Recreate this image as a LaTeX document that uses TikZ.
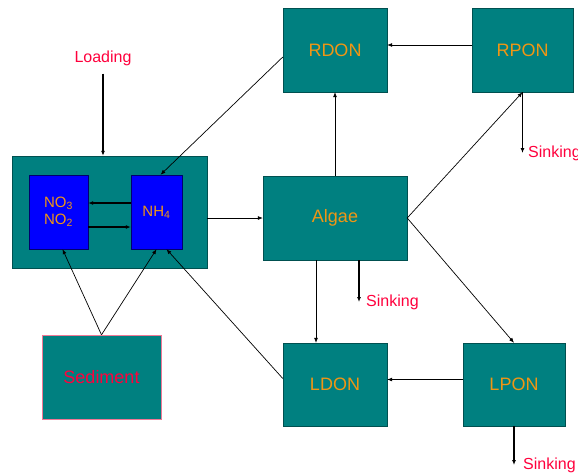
\documentclass[tikz,border=0pt]{standalone}
\usepackage{fontspec}
\setmainfont{Liberation Sans}
\usetikzlibrary{arrows.meta,calc,positioning}
\definecolor{PoolTeal}{RGB}{0,128,128}
\definecolor{EdgeTeal}{RGB}{0,80,80}
\definecolor{IonBlue}{RGB}{0,0,255}
\definecolor{EdgeBlue}{RGB}{0,0,110}
\definecolor{NameOrange}{RGB}{240,150,20}
\definecolor{NoteRed}{RGB}{255,0,60}
\definecolor{EdgePink}{RGB}{240,120,150}

\begin{document}
\begin{tikzpicture}[x=1pt,y=-1pt,>={Latex[length=5pt,width=4pt]},
  pool/.style={draw=EdgeTeal,fill=PoolTeal,text=NameOrange,font=\fontsize{18}{20}\selectfont,inner sep=0pt},
  ion/.style={draw=EdgeBlue,fill=IonBlue,text=NameOrange,font=\fontsize{15}{17}\selectfont,inner sep=0pt,align=center},
  note/.style={text=NoteRed,font=\fontsize{16}{18}\selectfont,inner sep=0pt},
  flow/.style={->,line width=0.7pt},
  drop/.style={->,line width=1.3pt}]
\useasboundingbox (0,0) rectangle (578,475);
% pools
\node[pool,minimum width=195pt,minimum height=112pt] (grp) at (109.5,212) {};
\node[ion,minimum width=59pt,minimum height=74pt] (no) at (58.5,212) {NO\textsubscript{3}\\NO\textsubscript{2}};
\node[ion,minimum width=51pt,minimum height=74pt] (nh) at (156.5,212) {NH\textsubscript{4}};
\node[pool,minimum width=144pt,minimum height=84pt] (algae) at (335,218) {Algae};
\node[pool,minimum width=104pt,minimum height=84pt] (rdon) at (335,50) {RDON};
\node[pool,minimum width=101pt,minimum height=84pt] (rpon) at (522.5,50) {RPON};
\node[pool,minimum width=104pt,minimum height=83pt] (ldon) at (335,384.5) {LDON};
\node[pool,minimum width=102pt,minimum height=83pt] (lpon) at (514,384.5) {LPON};
\node[pool,draw=EdgePink,text=NoteRed,minimum width=119pt,minimum height=84pt] (sed) at (101.5,377) {Sediment};
% labels
\node[note] (load) at (103,58) {Loading};
\node[note,anchor=west] (sk1) at (528,153) {Sinking};
\node[note,anchor=west] (sk2) at (366,302) {Sinking};
\node[note,anchor=west] (sk3) at (523,465) {Sinking};
% flows
\draw[drop] ([yshift=-8pt]load.south) -- (load.south |- grp.north);
\draw[drop] ([yshift=9pt]nh.west) -- ([yshift=9pt]no.east);
\draw[drop] ([yshift=-15pt]no.east) -- ([yshift=-15pt]nh.west);
\draw[flow] (grp.east |- algae.west) -- (algae.west);
\draw[flow] (algae.north) -- (rdon.south);
\draw[flow] ([yshift=5pt]rpon.west) -- ([yshift=5pt]rdon.east);
\draw[flow] ([yshift=-7pt]rdon.west) -- ([xshift=4pt]nh.north);
\draw[flow] (algae.east) -- (rpon.south);
\draw[flow] (algae.east) -- (lpon.north);
\draw[flow] ([xshift=-19pt]algae.south) -- ([xshift=-19pt]algae.south |- ldon.north);
\draw[drop] ([xshift=24pt]algae.south) -- ([xshift=24pt]algae.south |- sk2.west);
\draw[drop] (rpon.south) -- (rpon.south |- sk1.west);
\draw[drop] (lpon.south) -- (lpon.south |- sk3.west);
\draw[flow] ([yshift=5pt]lpon.west) -- ([yshift=5pt]ldon.east);
\draw[flow] ([yshift=6pt]ldon.west) -- ([xshift=10pt]nh.south);
\draw[flow] (sed.north) -- ([xshift=4pt]no.south);
\draw[flow] (sed.north) -- (nh.south);
\end{tikzpicture}
\end{document}
